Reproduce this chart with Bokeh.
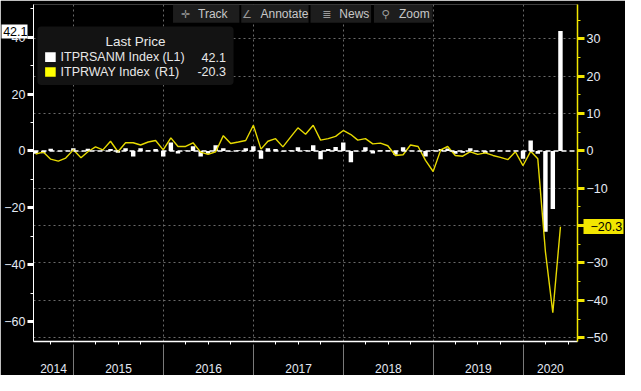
import pandas as pd
from bokeh.plotting import figure
from bokeh.models import (Range1d, LinearAxis, FixedTicker, Grid, Span, Label,
                          BoxAnnotation, ColumnDataSource)
from bokeh.embed import file_html
from bokeh.resources import INLINE

# ---------------- data ----------------
months = pd.date_range("2014-07-31", periods=71, freq="ME")

# ITPRSANM Index (L1) - monthly % change, bars
itprsanm = [
    -1.0, -0.8, 0.8, -0.1, 0.1, 1.0,                                  # 2014 Jul-Dec
    -0.1, 0.8, 0.2, 0.2, 0.7, -0.6, 1.0, -1.9, 1.0, 0.3, 0.7, -1.9,   # 2015
    3.0, -0.9, 0.2, 1.7, -1.9, -1.0, 2.0, 1.0, -0.2, 0.3, 1.0, 1.7,   # 2016
    -2.7, 1.0, 0.7, -0.2, 0.3, 1.3, 0.3, 2.0, -2.9, 0.7, 1.4, 3.0,    # 2017
    -4.0, -0.1, 1.3, -0.9, 0.3, 0.3, -1.3, 1.3, 0.1, -0.1, -1.9, 0.3, # 2018
    0.7, 0.9, -1.0, -0.6, 1.0, -0.2, -0.8, 0.3, 0.1, -0.1, 0.1, -2.7, # 2019
    3.7, -1.0, -28.4, -20.4, 42.1,                                    # 2020 Jan-May
]

# ITPRWAY Index (R1) - year-on-year %, line
itprway = [
    -0.8, -0.3, -2.2, -2.7, -1.9, 0.3,                                # 2014 Jul-Dec
    -1.8, -0.2, 1.1, 0.3, 2.6, -0.2, 2.2, 2.2, 1.6, 2.4, 2.8, 0.3,    # 2015
    3.5, 1.2, 1.2, 2.2, -0.3, -0.9, -0.2, 4.1, 2.0, 2.4, 2.8, 6.9,    # 2016
    0.5, 2.6, 3.3, 1.1, 3.7, 6.2, 4.5, 6.9, 2.9, 3.3, 3.9, 5.5,       # 2017
    4.4, 2.9, 3.3, 1.9, 2.1, 1.4, -1.2, -1.0, 1.6, 1.2, -2.5, -5.5,   # 2018
    0.3, 1.2, -1.2, -1.4, -0.2, -0.9, -0.5, -1.2, -1.7, -2.3, -0.2, -3.9,  # 2019
    -0.1, -2.1, -27.0, -43.3, -20.3,                                  # 2020 Jan-May
]

years = ["2014", "2015", "2016", "2017", "2018", "2019", "2020"]
left_ticks = [-60, -40, -20, 0, 20, 40]
right_ticks = [-50, -40, -30, -20, -10, 0, 10, 20, 30]
last_l1 = 42.1
last_r1 = -20.3
legend_names = ["ITPRSANM Index", "ITPRWAY Index"]
legend_axes = ["(L1)", "(R1)"]
legend_last = ["42.1", "-20.3"]
buttons = [("\u271b", "Track"), ("\u2220", "Annotate"), ("\u2263", "News"), ("\u26b2", "Zoom")]

# ---------------- helpers: reference pixel -> data ----------------
DAY = 86400000.0

def ms(d):
    return pd.Timestamp(d).value / 1e6

T0 = ms("2015-01-01")
PXD = 0.25613              # px per day in reference
def px_x(px):
    return T0 + (px - 73.6) / PXD * DAY
def py_l(py):
    return (157.0 - py) / 2.975
def py_r(py):
    return (157.0 - py) / 3.9

FONT = "Liberation Sans"
LBL = "#e4eaf4"
YEL = "#f2e600"
LINEYEL = "#e6d900"

p = figure(width=625, height=375, output_backend="svg", toolbar_location=None,
           x_range=Range1d(px_x(31.9), px_x(597.7)),
           y_range=Range1d(py_l(356), py_l(4)),
           min_border_left=31, min_border_right=42, min_border_top=4, min_border_bottom=34,
           background_fill_color="black", border_fill_color="black",
           outline_line_color=None)
p.extra_y_ranges = {"right": Range1d(py_r(356), py_r(4))}

# ---------------- grids ----------------
x0, x1 = px_x(31.9), px_x(597.7)
jan1 = [ms(f"{y}-01-01") for y in range(2015, 2021)]
quarters = [ms(f"{y}-{m:02d}-01") for y in range(2014, 2021) for m in (4, 7, 10)]
quarters = [q for q in quarters if x0 < q < x1]

p.xgrid.ticker = FixedTicker(ticks=jan1)
p.xgrid.grid_line_color = "#6a6a6a"
p.xgrid.grid_line_dash = "2 3"
p.ygrid.visible = False
hgrid = Grid(dimension=1, y_range_name="right",
             ticker=FixedTicker(ticks=[t for t in right_ticks if t != 0]),
             grid_line_color="#6a6a6a", grid_line_dash="2 3")
p.add_layout(hgrid)

# ---------------- series ----------------
src = ColumnDataSource(dict(x=[ms(m) for m in months], mom=itprsanm, yoy=itprway))
p.vbar(x="x", top="mom", bottom=0, width=18 * DAY, source=src,
       fill_color="white", line_color=None)
p.add_layout(Span(location=0, dimension="width", line_color="white",
                  line_dash="5 3", line_width=1.5))
p.line(x="x", y="yoy", source=src, y_range_name="right",
       line_color=LINEYEL, line_width=1.4)

# ---------------- x axes ----------------
# axis next to the frame: axis line + quarter ticks, no labels
xa = p.xaxis[0]
xa.ticker = FixedTicker(ticks=[], minor_ticks=quarters)
xa.axis_line_color = "white"
xa.axis_line_width = 1.5
xa.major_tick_out = 0
xa.major_tick_in = 0
xa.minor_tick_line_color = "white"
xa.minor_tick_out = 3
xa.minor_tick_in = 0
xa.major_label_standoff = 0

# axis below: year labels centred in each year, separators at 1 Jan
centers = []
for yr in years:
    a = max(x0, ms(f"{yr}-01-01"))
    b = min(x1, ms(f"{int(yr) + 1}-01-01"))
    centers.append(float(round((a + b) / 2)))
xb = LinearAxis(ticker=FixedTicker(ticks=centers, minor_ticks=jan1),
                major_label_overrides={c: yr for c, yr in zip(centers, years)})
xb.axis_line_color = None
xb.major_tick_line_color = None
xb.major_tick_out = 0
xb.major_tick_in = 0
xb.minor_tick_line_color = "#7a7a7a"
xb.minor_tick_out = 34
xb.minor_tick_in = 0
xb.major_label_standoff = -15
xb.major_label_text_color = LBL
xb.major_label_text_font = FONT
xb.major_label_text_font_size = "12px"
p.add_layout(xb, "below")

# ---------------- y axes ----------------
ya = p.yaxis[0]
ya.ticker = FixedTicker(ticks=left_ticks, minor_ticks=list(range(-60, 60, 10)))
ya.axis_line_color = "white"
ya.major_tick_line_color = "white"
ya.major_tick_line_width = 3
ya.major_tick_out = 6
ya.major_tick_in = 0
ya.minor_tick_line_color = "white"
ya.minor_tick_out = 3
ya.minor_tick_in = 0
ya.major_label_text_color = LBL
ya.major_label_text_font = FONT
ya.major_label_text_font_size = "12.5px"
ya.major_label_standoff = 2

ra = LinearAxis(y_range_name="right",
                ticker=FixedTicker(ticks=right_ticks, minor_ticks=list(range(-50, 40, 5))))
ra.axis_line_color = YEL
ra.axis_line_width = 1.5
ra.major_tick_line_color = YEL
ra.major_tick_line_width = 3
ra.major_tick_out = 7
ra.major_tick_in = 0
ra.minor_tick_line_color = YEL
ra.minor_tick_out = 3
ra.minor_tick_in = 0
ra.major_label_text_color = LBL
ra.major_label_text_font = FONT
ra.major_label_text_font_size = "12.5px"
ra.major_label_standoff = 2
p.add_layout(ra, "right")

# ---------------- last value tags (a thick tick is the box, its label the value) ----------------
tag_l = LinearAxis(ticker=FixedTicker(ticks=[last_l1], minor_ticks=[]))
tag_l.axis_line_color = None
tag_l.major_tick_line_color = "white"
tag_l.major_tick_line_width = 14
tag_l.major_tick_in = 26
tag_l.major_tick_out = 0
tag_l.minor_tick_line_color = None
tag_l.major_label_text_color = "black"
tag_l.major_label_text_font = FONT
tag_l.major_label_text_font_size = "12.5px"
tag_l.major_label_standoff = -26
p.add_layout(tag_l, "left")

tag_r = LinearAxis(y_range_name="right", ticker=FixedTicker(ticks=[last_r1], minor_ticks=[]))
tag_r.axis_line_color = None
tag_r.major_tick_line_color = YEL
tag_r.major_tick_line_width = 15
tag_r.major_tick_in = 27
tag_r.major_tick_out = 13
tag_r.minor_tick_line_color = None
tag_r.major_label_text_color = "black"
tag_r.major_label_text_font = FONT
tag_r.major_label_text_font_size = "12.5px"
tag_r.major_label_standoff = -33
p.add_layout(tag_r, "right")

# ---------------- legend ----------------
p.add_layout(BoxAnnotation(left=px_x(36), right=px_x(240), top=py_l(27), bottom=py_l(88),
                           fill_color="#131313", fill_alpha=1, line_color=None,
                           border_radius=4))
p.add_layout(Label(x=px_x(138), y=py_l(43), text="Last Price", text_align="center",
                   text_baseline="middle", text_color="#e8e8e8", text_font=FONT,
                   text_font_size="13.5px"))
ax_x = [166, 158]
for i, (col, yc) in enumerate(zip(["white", "#ffff00"], [59, 74.5])):
    p.add_layout(BoxAnnotation(left=px_x(44), right=px_x(55), top=py_l(yc - 5),
                               bottom=py_l(yc + 5), fill_color=col, fill_alpha=1,
                               line_color=None))
    p.add_layout(Label(x=px_x(60), y=py_l(yc), text=legend_names[i], text_align="left",
                       text_baseline="middle", text_color="#e8e8e8", text_font=FONT,
                       text_font_size="12.5px"))
    p.add_layout(Label(x=px_x(ax_x[i]), y=py_l(yc), text=legend_axes[i], text_align="left",
                       text_baseline="middle", text_color="#e8e8e8", text_font=FONT,
                       text_font_size="12.5px"))
    p.add_layout(Label(x=px_x(232), y=py_l(yc), text=legend_last[i], text_align="right",
                       text_baseline="middle", text_color="#e8e8e8", text_font=FONT,
                       text_font_size="12.5px"))

# ---------------- toolbar buttons ----------------
boxes = [(177, 246), (248, 318), (320, 383), (386, 447)]
icon_x = [190, 254, 337, 398]
word_x = [203, 268, 350, 412]
for (icon, word), (bl, br), ix, wx in zip(buttons, boxes, icon_x, word_x):
    p.add_layout(BoxAnnotation(left=px_x(bl), right=px_x(br), top=py_l(4), bottom=py_l(23),
                               fill_color="#1d1d1d", fill_alpha=1, line_color=None))
    p.add_layout(Label(x=px_x(ix), y=py_l(14), text=icon, text_align="center",
                       text_baseline="middle", text_color="#9a9a9a",
                       text_font="DejaVu Sans", text_font_size="11px"))
    p.add_layout(Label(x=px_x(wx), y=py_l(14), text=word, text_align="left",
                       text_baseline="middle", text_color="#c8c8c8", text_font=FONT,
                       text_font_size="12px"))

open("out.html", "w").write(file_html(p, INLINE))
